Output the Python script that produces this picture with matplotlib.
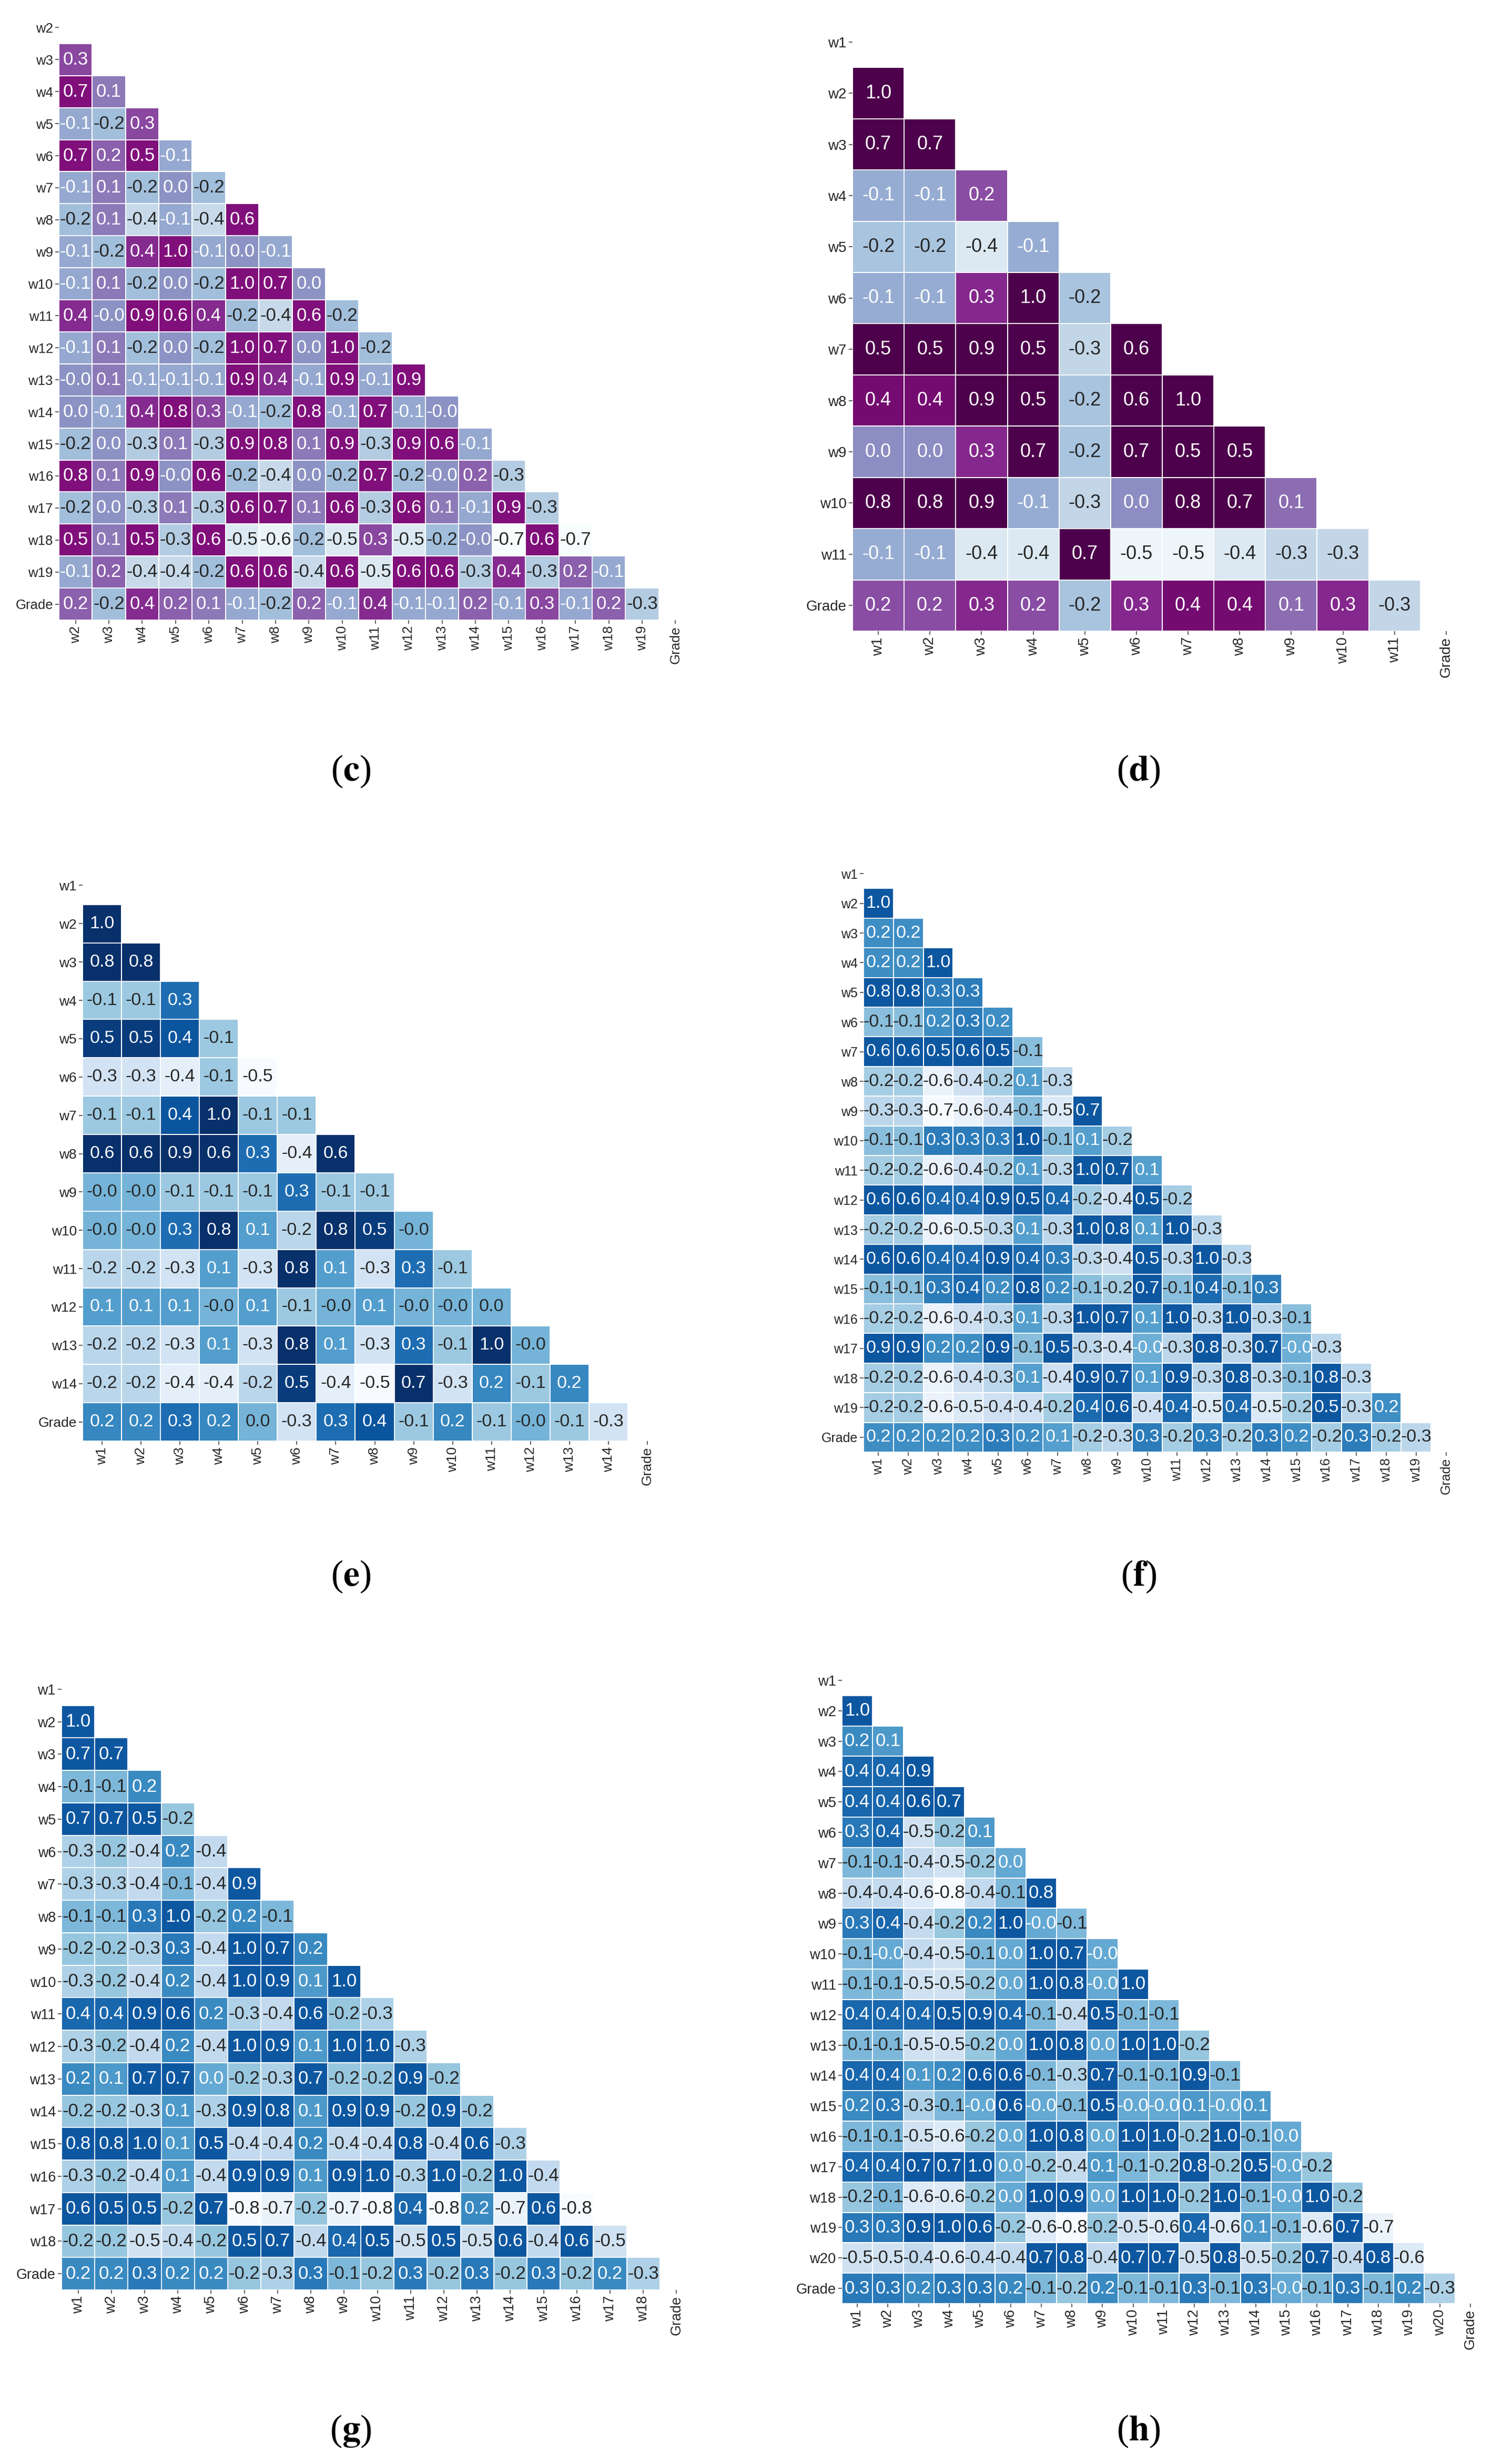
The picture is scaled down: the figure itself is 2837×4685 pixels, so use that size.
import numpy as np
import matplotlib
matplotlib.use("Agg")
import matplotlib.pyplot as plt
from matplotlib.colors import ListedColormap, to_rgb

plt.rcParams['font.family'] = ['Liberation Sans', 'DejaVu Sans']
plt.rcParams['mathtext.fontset'] = 'stix'

# ---- panel (c) ----
labels_c = ['w2', 'w3', 'w4', 'w5', 'w6', 'w7', 'w8', 'w9', 'w10', 'w11', 'w12',
            'w13', 'w14', 'w15', 'w16', 'w17', 'w18', 'w19', 'Grade']
rows_c = [
    [0.3],
    [0.7, 0.1],
    [-0.1, -0.2, 0.3],
    [0.7, 0.2, 0.5, -0.1],
    [-0.1, 0.1, -0.2, 0.0, -0.2],
    [-0.2, 0.1, -0.4, -0.1, -0.4, 0.6],
    [-0.1, -0.2, 0.4, 1.0, -0.1, 0.0, -0.1],
    [-0.1, 0.1, -0.2, 0.0, -0.2, 1.0, 0.7, 0.0],
    [0.4, -0.0, 0.9, 0.6, 0.4, -0.2, -0.4, 0.6, -0.2],
    [-0.1, 0.1, -0.2, 0.0, -0.2, 1.0, 0.7, 0.0, 1.0, -0.2],
    [-0.0, 0.1, -0.1, -0.1, -0.1, 0.9, 0.4, -0.1, 0.9, -0.1, 0.9],
    [0.0, -0.1, 0.4, 0.8, 0.3, -0.1, -0.2, 0.8, -0.1, 0.7, -0.1, -0.0],
    [-0.2, 0.0, -0.3, 0.1, -0.3, 0.9, 0.8, 0.1, 0.9, -0.3, 0.9, 0.6, -0.1],
    [0.8, 0.1, 0.9, -0.0, 0.6, -0.2, -0.4, 0.0, -0.2, 0.7, -0.2, -0.0, 0.2, -0.3],
    [-0.2, 0.0, -0.3, 0.1, -0.3, 0.6, 0.7, 0.1, 0.6, -0.3, 0.6, 0.1, -0.1, 0.9, -0.3],
    [0.5, 0.1, 0.5, -0.3, 0.6, -0.5, -0.6, -0.2, -0.5, 0.3, -0.5, -0.2, -0.0, -0.7, 0.6, -0.7],
    [-0.1, 0.2, -0.4, -0.4, -0.2, 0.6, 0.6, -0.4, 0.6, -0.5, 0.6, 0.6, -0.3, 0.4, -0.3, 0.2, -0.1],
    [0.2, -0.2, 0.4, 0.2, 0.1, -0.1, -0.2, 0.2, -0.1, 0.4, -0.1, -0.1, 0.2, -0.1, 0.3, -0.1, 0.2, -0.3],
]

# ---- panel (d) ----
labels_d = ['w1', 'w2', 'w3', 'w4', 'w5', 'w6', 'w7', 'w8', 'w9', 'w10', 'w11', 'Grade']
rows_d = [
    [1.0],
    [0.7, 0.7],
    [-0.1, -0.1, 0.2],
    [-0.2, -0.2, -0.4, -0.1],
    [-0.1, -0.1, 0.3, 1.0, -0.2],
    [0.5, 0.5, 0.9, 0.5, -0.3, 0.6],
    [0.4, 0.4, 0.9, 0.5, -0.2, 0.6, 1.0],
    [0.0, 0.0, 0.3, 0.7, -0.2, 0.7, 0.5, 0.5],
    [0.8, 0.8, 0.9, -0.1, -0.3, 0.0, 0.8, 0.7, 0.1],
    [-0.1, -0.1, -0.4, -0.4, 0.7, -0.5, -0.5, -0.4, -0.3, -0.3],
    [0.2, 0.2, 0.3, 0.2, -0.2, 0.3, 0.4, 0.4, 0.1, 0.3, -0.3],
]

# ---- panel (e) ----
labels_e = ['w1', 'w2', 'w3', 'w4', 'w5', 'w6', 'w7', 'w8', 'w9', 'w10', 'w11',
            'w12', 'w13', 'w14', 'Grade']
rows_e = [
    [1.0],
    [0.8, 0.8],
    [-0.1, -0.1, 0.3],
    [0.5, 0.5, 0.4, -0.1],
    [-0.3, -0.3, -0.4, -0.1, -0.5],
    [-0.1, -0.1, 0.4, 1.0, -0.1, -0.1],
    [0.6, 0.6, 0.9, 0.6, 0.3, -0.4, 0.6],
    [-0.0, -0.0, -0.1, -0.1, -0.1, 0.3, -0.1, -0.1],
    [-0.0, -0.0, 0.3, 0.8, 0.1, -0.2, 0.8, 0.5, -0.0],
    [-0.2, -0.2, -0.3, 0.1, -0.3, 0.8, 0.1, -0.3, 0.3, -0.1],
    [0.1, 0.1, 0.1, -0.0, 0.1, -0.1, -0.0, 0.1, -0.0, -0.0, 0.0],
    [-0.2, -0.2, -0.3, 0.1, -0.3, 0.8, 0.1, -0.3, 0.3, -0.1, 1.0, -0.0],
    [-0.2, -0.2, -0.4, -0.4, -0.2, 0.5, -0.4, -0.5, 0.7, -0.3, 0.2, -0.1, 0.2],
    [0.2, 0.2, 0.3, 0.2, 0.0, -0.3, 0.3, 0.4, -0.1, 0.2, -0.1, -0.0, -0.1, -0.3],
]

# ---- panel (f) ----
labels_f = ['w1', 'w2', 'w3', 'w4', 'w5', 'w6', 'w7', 'w8', 'w9', 'w10', 'w11',
            'w12', 'w13', 'w14', 'w15', 'w16', 'w17', 'w18', 'w19', 'Grade']
rows_f = [
    [1.0],
    [0.2, 0.2],
    [0.2, 0.2, 1.0],
    [0.8, 0.8, 0.3, 0.3],
    [-0.1, -0.1, 0.2, 0.3, 0.2],
    [0.6, 0.6, 0.5, 0.6, 0.5, -0.1],
    [-0.2, -0.2, -0.6, -0.4, -0.2, 0.1, -0.3],
    [-0.3, -0.3, -0.7, -0.6, -0.4, -0.1, -0.5, 0.7],
    [-0.1, -0.1, 0.3, 0.3, 0.3, 1.0, -0.1, 0.1, -0.2],
    [-0.2, -0.2, -0.6, -0.4, -0.2, 0.1, -0.3, 1.0, 0.7, 0.1],
    [0.6, 0.6, 0.4, 0.4, 0.9, 0.5, 0.4, -0.2, -0.4, 0.5, -0.2],
    [-0.2, -0.2, -0.6, -0.5, -0.3, 0.1, -0.3, 1.0, 0.8, 0.1, 1.0, -0.3],
    [0.6, 0.6, 0.4, 0.4, 0.9, 0.4, 0.3, -0.3, -0.4, 0.5, -0.3, 1.0, -0.3],
    [-0.1, -0.1, 0.3, 0.4, 0.2, 0.8, 0.2, -0.1, -0.2, 0.7, -0.1, 0.4, -0.1, 0.3],
    [-0.2, -0.2, -0.6, -0.4, -0.3, 0.1, -0.3, 1.0, 0.7, 0.1, 1.0, -0.3, 1.0, -0.3, -0.1],
    [0.9, 0.9, 0.2, 0.2, 0.9, -0.1, 0.5, -0.3, -0.4, -0.0, -0.3, 0.8, -0.3, 0.7, -0.0, -0.3],
    [-0.2, -0.2, -0.6, -0.4, -0.3, 0.1, -0.4, 0.9, 0.7, 0.1, 0.9, -0.3, 0.8, -0.3, -0.1, 0.8, -0.3],
    [-0.2, -0.2, -0.6, -0.5, -0.4, -0.4, -0.2, 0.4, 0.6, -0.4, 0.4, -0.5, 0.4, -0.5, -0.2, 0.5, -0.3, 0.2],
    [0.2, 0.2, 0.2, 0.2, 0.3, 0.2, 0.1, -0.2, -0.3, 0.3, -0.2, 0.3, -0.2, 0.3, 0.2, -0.2, 0.3, -0.2, -0.3],
]

# ---- panel (g) ----
labels_g = ['w1', 'w2', 'w3', 'w4', 'w5', 'w6', 'w7', 'w8', 'w9', 'w10', 'w11',
            'w12', 'w13', 'w14', 'w15', 'w16', 'w17', 'w18', 'Grade']
rows_g = [
    [1.0],
    [0.7, 0.7],
    [-0.1, -0.1, 0.2],
    [0.7, 0.7, 0.5, -0.2],
    [-0.3, -0.2, -0.4, 0.2, -0.4],
    [-0.3, -0.3, -0.4, -0.1, -0.4, 0.9],
    [-0.1, -0.1, 0.3, 1.0, -0.2, 0.2, -0.1],
    [-0.2, -0.2, -0.3, 0.3, -0.4, 1.0, 0.7, 0.2],
    [-0.3, -0.2, -0.4, 0.2, -0.4, 1.0, 0.9, 0.1, 1.0],
    [0.4, 0.4, 0.9, 0.6, 0.2, -0.3, -0.4, 0.6, -0.2, -0.3],
    [-0.3, -0.2, -0.4, 0.2, -0.4, 1.0, 0.9, 0.1, 1.0, 1.0, -0.3],
    [0.2, 0.1, 0.7, 0.7, 0.0, -0.2, -0.3, 0.7, -0.2, -0.2, 0.9, -0.2],
    [-0.2, -0.2, -0.3, 0.1, -0.3, 0.9, 0.8, 0.1, 0.9, 0.9, -0.2, 0.9, -0.2],
    [0.8, 0.8, 1.0, 0.1, 0.5, -0.4, -0.4, 0.2, -0.4, -0.4, 0.8, -0.4, 0.6, -0.3],
    [-0.3, -0.2, -0.4, 0.1, -0.4, 0.9, 0.9, 0.1, 0.9, 1.0, -0.3, 1.0, -0.2, 1.0, -0.4],
    [0.6, 0.5, 0.5, -0.2, 0.7, -0.8, -0.7, -0.2, -0.7, -0.8, 0.4, -0.8, 0.2, -0.7, 0.6, -0.8],
    [-0.2, -0.2, -0.5, -0.4, -0.2, 0.5, 0.7, -0.4, 0.4, 0.5, -0.5, 0.5, -0.5, 0.6, -0.4, 0.6, -0.5],
    [0.2, 0.2, 0.3, 0.2, 0.2, -0.2, -0.3, 0.3, -0.1, -0.2, 0.3, -0.2, 0.3, -0.2, 0.3, -0.2, 0.2, -0.3],
]

# ---- panel (h) ----
labels_h = ['w1', 'w2', 'w3', 'w4', 'w5', 'w6', 'w7', 'w8', 'w9', 'w10', 'w11',
            'w12', 'w13', 'w14', 'w15', 'w16', 'w17', 'w18', 'w19', 'w20', 'Grade']
rows_h = [
    [1.0],
    [0.2, 0.1],
    [0.4, 0.4, 0.9],
    [0.4, 0.4, 0.6, 0.7],
    [0.3, 0.4, -0.5, -0.2, 0.1],
    [-0.1, -0.1, -0.4, -0.5, -0.2, 0.0],
    [-0.4, -0.4, -0.6, -0.8, -0.4, -0.1, 0.8],
    [0.3, 0.4, -0.4, -0.2, 0.2, 1.0, -0.0, -0.1],
    [-0.1, -0.0, -0.4, -0.5, -0.1, 0.0, 1.0, 0.7, -0.0],
    [-0.1, -0.1, -0.5, -0.5, -0.2, 0.0, 1.0, 0.8, -0.0, 1.0],
    [0.4, 0.4, 0.4, 0.5, 0.9, 0.4, -0.1, -0.4, 0.5, -0.1, -0.1],
    [-0.1, -0.1, -0.5, -0.5, -0.2, 0.0, 1.0, 0.8, 0.0, 1.0, 1.0, -0.2],
    [0.4, 0.4, 0.1, 0.2, 0.6, 0.6, -0.1, -0.3, 0.7, -0.1, -0.1, 0.9, -0.1],
    [0.2, 0.3, -0.3, -0.1, -0.0, 0.6, -0.0, -0.1, 0.5, -0.0, -0.0, 0.1, -0.0, 0.1],
    [-0.1, -0.1, -0.5, -0.6, -0.2, 0.0, 1.0, 0.8, 0.0, 1.0, 1.0, -0.2, 1.0, -0.1, 0.0],
    [0.4, 0.4, 0.7, 0.7, 1.0, 0.0, -0.2, -0.4, 0.1, -0.1, -0.2, 0.8, -0.2, 0.5, -0.0, -0.2],
    [-0.2, -0.1, -0.6, -0.6, -0.2, 0.0, 1.0, 0.9, 0.0, 1.0, 1.0, -0.2, 1.0, -0.1, -0.0, 1.0, -0.2],
    [0.3, 0.3, 0.9, 1.0, 0.6, -0.2, -0.6, -0.8, -0.2, -0.5, -0.6, 0.4, -0.6, 0.1, -0.1, -0.6, 0.7, -0.7],
    [-0.5, -0.5, -0.4, -0.6, -0.4, -0.4, 0.7, 0.8, -0.4, 0.7, 0.7, -0.5, 0.8, -0.5, -0.2, 0.7, -0.4, 0.8, -0.6],
    [0.3, 0.3, 0.2, 0.3, 0.3, 0.2, -0.1, -0.2, 0.2, -0.1, -0.1, 0.3, -0.1, 0.3, -0.0, -0.1, 0.3, -0.1, 0.2, -0.3],
]

W, H = 2837, 4685
fig = plt.figure(figsize=(W / 100, H / 100), dpi=100)


def sliced(name, top):
    return ListedColormap(plt.get_cmap(name)(np.linspace(0, top, 256)))


def luminance(c):
    rgb = np.array(to_rgb(c))
    rgb = np.where(rgb <= 0.03928, rgb / 12.92, ((rgb + 0.055) / 1.055) ** 2.4)
    return 0.2126 * rgb[0] + 0.7152 * rgb[1] + 0.0722 * rgb[2]


def draw_panel(box, labels, rows, cmap, vmin, vmax, tick_fs, annot_fs, letter, cap_xy):
    x0, y0, x1, y1 = box
    ax = fig.add_axes([x0 / W, 1 - y1 / H, (x1 - x0) / W, (y1 - y0) / H])
    n = len(labels)
    m = np.full((n, n), np.nan)
    for i, r in enumerate(rows, start=1):
        m[i, :len(r)] = r
    mesh = ax.pcolormesh(np.ma.masked_invalid(m), cmap=cmap, vmin=vmin, vmax=vmax,
                         edgecolors='white', linewidth=1.2)
    for i, r in enumerate(rows, start=1):
        for j, v in enumerate(r):
            col = mesh.cmap(mesh.norm(v))
            tc = '#262626' if luminance(col) > 0.408 else 'white'
            ax.text(j + 0.5, i + 0.5, f"{v:.1f}", ha='center', va='center',
                    fontsize=annot_fs, color=tc)
    ax.set_xlim(0, n)
    ax.set_ylim(n, 0)
    ax.set_xticks(np.arange(n) + 0.5)
    ax.set_xticklabels(labels, rotation=90, fontsize=tick_fs, color='#262626')
    ax.set_yticks(np.arange(n) + 0.5)
    ax.set_yticklabels(labels, fontsize=tick_fs, color='#262626')
    ax.tick_params(length=5, width=1.3, color='#555555', pad=3)
    for s in ax.spines.values():
        s.set_visible(False)
    fig.text(cap_xy[0] / W, 1 - cap_xy[1] / H, '(' + r'$\mathbf{' + letter + '}$' + ')',
             ha='center', va='center', fontsize=50, family='Liberation Serif')


draw_panel((112, 22, 1316, 1179), labels_c, rows_c, sliced('BuPu', 0.875), -0.7, 0.5,
           18.5, 25, 'c', (667, 1467))
draw_panel((1621, 31, 2799, 1200), labels_d, rows_d, plt.get_cmap('BuPu'), -0.55, 0.5,
           20, 26, 'd', (2165, 1467))
draw_panel((157, 1647, 1268, 2740), labels_e, rows_e, plt.get_cmap('Blues'), -0.5, 0.55,
           19, 24.5, 'e', (667, 2998))
draw_panel((1642, 1633, 2778, 2761), labels_f, rows_f, sliced('Blues', 0.85), -0.7, 0.5,
           18, 24.5, 'f', (2165, 2998))
draw_panel((117, 3181, 1318, 4354), labels_g, rows_g, sliced('Blues', 0.85), -0.8, 0.5,
           19.4, 25, 'g', (667, 4623))
draw_panel((1601, 3166, 2825, 4380), labels_h, rows_h, sliced('Blues', 0.85), -0.8, 0.5,
           19.7, 25, 'h', (2165, 4623))

fig.savefig('out.png', dpi=100, facecolor='white')
